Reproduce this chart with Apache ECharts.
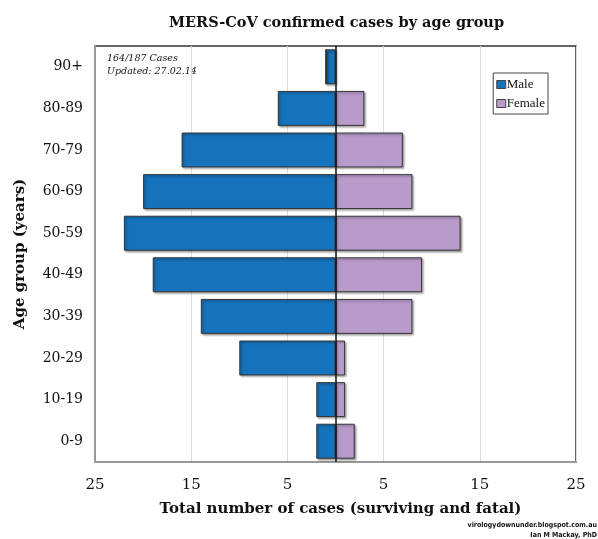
<!DOCTYPE html>
<html lang="en">
<head>
    <meta charset="UTF-8">
    <title>MERS-CoV confirmed cases by age group</title>
    <script src="https://cdn.jsdelivr.net/npm/echarts@6/dist/echarts.min.js"></script>
    <style>
        html, body { margin: 0; padding: 0; background: #fff; }
        #chart { width: 598px; height: 539px; }
    </style>
</head>
<body>
<div id="chart"></div>
<script>
    // age groups, bottom to top
    var ageGroups = ['0-9', '10-19', '20-29', '30-39', '40-49', '50-59', '60-69', '70-79', '80-89', '90+'];
    var maleCases = [2, 2, 10, 14, 19, 22, 20, 16, 6, 1];
    var femaleCases = [2, 1, 1, 8, 9, 13, 8, 7, 3, 0];
    var xTicks = [-25, -15, -5, 5, 15, 25];

    var serif = '"DejaVu Serif", "Liberation Serif", serif';
    var chart = echarts.init(document.getElementById('chart'));

    var barShadow = {
        borderColor: '#333',
        borderWidth: 1,
        shadowColor: 'rgba(0,0,0,0.35)',
        shadowBlur: 2,
        shadowOffsetX: 1.5,
        shadowOffsetY: 1.5
    };

    var option = {
        animation: false,
        title: {
            text: 'MERS-CoV confirmed cases by age group',
            left: 164,
            top: 11,
            textStyle: { fontFamily: serif, fontSize: 14.5, fontWeight: 'bold', color: '#111' }
        },
        legend: {
            orient: 'vertical',
            right: 50,
            top: 73,
            data: ['Male', 'Female'],
            itemWidth: 9,
            itemHeight: 8,
            itemGap: 6,
            padding: [5, 3, 4, 3],
            borderColor: '#444',
            borderWidth: 1,
            icon: 'rect',
            itemStyle: { borderColor: '#444', borderWidth: 1 },
            textStyle: { fontFamily: '"Liberation Serif", serif', fontSize: 13, color: '#111', padding: [0, 0, 0, -4] }
        },
        grid: {
            left: 95, right: 22, top: 46, bottom: 77,
            show: true,
            borderColor: '#333',
            borderWidth: 1.5
        },
        xAxis: {
            type: 'value',
            min: -25,
            max: 25,
            interval: 10,
            name: 'Total number of cases (surviving and fatal)',
            nameLocation: 'middle',
            nameGap: 40,
            nameTextStyle: { fontFamily: serif, fontSize: 15, fontWeight: 'bold', color: '#111', padding: [0, 0, 0, 10] },
            axisLine: { show: true, lineStyle: { color: '#999', width: 2 } },
            axisTick: { show: false },
            axisLabel: {
                margin: 16,
                fontFamily: serif, fontSize: 15, color: '#111',
                formatter: function (v) { return xTicks.indexOf(v) >= 0 ? String(Math.abs(v)) : ''; }
            },
            splitLine: { show: true, lineStyle: { color: '#ddd', width: 1 } }
        },
        yAxis: {
            type: 'category',
            data: ageGroups,
            name: 'Age group (years)',
            nameLocation: 'middle',
            nameGap: 67,
            nameTextStyle: { fontFamily: serif, fontSize: 15, fontWeight: 'bold', color: '#111' },
            axisLine: { show: true, onZero: false, lineStyle: { color: '#999', width: 2 } },
            axisTick: { show: false },
            axisLabel: { margin: 12, fontFamily: serif, fontSize: 14, color: '#111' }
        },
        series: [
            {
                name: 'Male',
                type: 'bar',
                stack: 'cases',
                barCategoryGap: '16%',
                itemStyle: Object.assign({ color: '#1672BA' }, barShadow),
                data: maleCases.map(function (v) { return -v; }),
                markLine: {
                    silent: true,
                    symbol: 'none',
                    label: { show: false },
                    lineStyle: { color: '#111', width: 1.5, type: 'solid' },
                    data: [{ xAxis: 0 }]
                },
                z: 2
            },
            {
                name: 'Female',
                type: 'bar',
                stack: 'cases',
                barCategoryGap: '16%',
                itemStyle: Object.assign({ color: '#B99BCB' }, barShadow),
                data: femaleCases,
                z: 2
            }
        ],
        graphic: [
            {
                type: 'text',
                x: 107,
                y: 52,
                style: {
                    text: '164/187 Cases\nUpdated: 27.02.14',
                    font: 'italic 9.5px ' + serif,
                    fill: '#111',
                    lineHeight: 13
                }
            },
            {
                type: 'text',
                x: 597,
                y: 520,
                style: {
                    text: 'virologydownunder.blogspot.com.au\nIan M Mackay, PhD',
                    font: 'bold 7px "Liberation Sans Narrow", "DejaVu Sans Condensed", sans-serif',
                    fill: '#111',
                    align: 'right',
                    lineHeight: 10
                }
            }
        ]
    };

    chart.setOption(option);
</script>
</body>
</html>
